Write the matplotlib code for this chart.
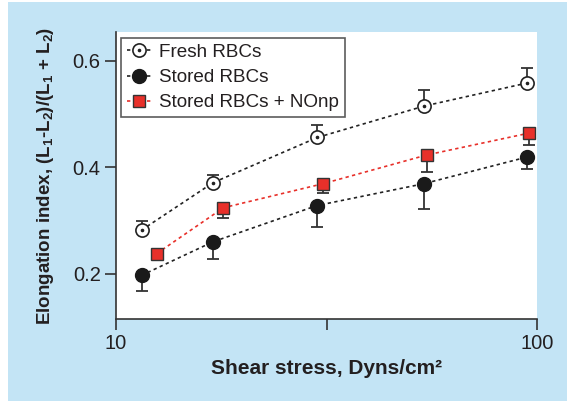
import matplotlib.pyplot as plt
import numpy as np
from matplotlib.patches import Rectangle

plt.rcParams['font.family'] = ['Liberation Sans', 'DejaVu Sans']
plt.rcParams['mathtext.fontset'] = 'custom'
plt.rcParams['mathtext.rm'] = 'Liberation Sans:bold'
plt.rcParams['mathtext.bf'] = 'Liberation Sans:bold'

# shear stress (x), elongation index (y), one-sided error bars
fresh_x = [11.5, 17.0, 30.1, 54.0, 94.5]
fresh_y = [0.282, 0.371, 0.456, 0.515, 0.558]
fresh_err_up = [0.017, 0.015, 0.023, 0.030, 0.028]

stored_x = [11.5, 17.0, 30.0, 53.8, 94.5]
stored_y = [0.197, 0.260, 0.328, 0.369, 0.419]
stored_err_dn = [0.030, 0.032, 0.040, 0.048, 0.023]

np_x = [12.5, 18.0, 31.0, 54.7, 95.6]
np_y = [0.238, 0.324, 0.369, 0.423, 0.464]
np_err_dn = [0.002, 0.020, 0.018, 0.032, 0.023]

xticks = [10, 10**1.5, 100]
xticklabels = ['10', '', '100']
yticks = [0.2, 0.4, 0.6]
yticklabels = ['0.2', '0.4', '0.6']

txt = '#231f20'
blue = '#c3e4f5'
red = '#e8302a'

fig = plt.figure(figsize=(5.67, 4.01), dpi=100, facecolor='white')
fig.patches.append(Rectangle((8/567, 0), 1, 1 - 2/401, transform=fig.transFigure,
                             facecolor=blue, edgecolor='none', zorder=-10))
ax = fig.add_axes([116/567, 1 - 319/401, 421/567, 287/401])
ax.set_facecolor('white')

ebkw = dict(ecolor='#333333', elinewidth=1.3, capsize=4, capthick=1.3, zorder=2)

ax.errorbar(fresh_x, fresh_y, yerr=[np.zeros(5), fresh_err_up], fmt='none', **ebkw)
ax.errorbar(stored_x, stored_y, yerr=[stored_err_dn, np.zeros(5)], fmt='none', **ebkw)
ax.errorbar(np_x, np_y, yerr=[np_err_dn, np.zeros(5)], fmt='none', **ebkw)

l1, = ax.plot(fresh_x, fresh_y, linestyle=(0, (2, 2)), color='#222222', lw=1.2,
              marker='o', ms=9.5, mfc='white', mec='#222222', mew=1.2, zorder=3)
d1, = ax.plot(fresh_x, fresh_y, linestyle='none', marker='o', ms=1.6,
              color='#222222', zorder=4)
l2, = ax.plot(stored_x, stored_y, linestyle=(0, (2, 2)), color='#222222', lw=1.2,
              marker='o', ms=10, mfc='#1a1a1a', mec='#1a1a1a', zorder=3)
l3, = ax.plot(np_x, np_y, linestyle=(0, (2, 2)), color=red, lw=1.2,
              marker='s', ms=9, mfc=red, mec='#333333', mew=1.0, zorder=3)

ax.set_xscale('log')
ax.set_xlim(10, 100)
ax.set_ylim(0.115, 0.654)
ax.set_xticks(xticks)
ax.set_xticklabels(xticklabels)
ax.xaxis.set_minor_locator(plt.NullLocator())
ax.set_yticks(yticks)
ax.set_yticklabels(yticklabels)

for s in ['top', 'right']:
    ax.spines[s].set_visible(False)
for s in ['left', 'bottom']:
    ax.spines[s].set_color('#333333')
    ax.spines[s].set_linewidth(1.2)
ax.tick_params(direction='out', length=8, width=1.2, color='#333333',
               labelsize=14.5, labelcolor=txt, pad=3)

ax.set_xlabel('Shear stress, Dyns/cm\u00b2', fontsize=15, fontweight='bold',
              color=txt, labelpad=4)
ax.set_ylabel('Elongation index, (L$_1$-L$_2$)/(L$_1$ + L$_2$)', fontsize=13.5,
              fontweight='bold', color=txt, labelpad=12)

leg = ax.legend([(l1, d1), l2, l3], ['Fresh RBCs', 'Stored RBCs', 'Stored RBCs + NOnp'],
                loc='upper left', bbox_to_anchor=(0.012, 0.98), fontsize=13.6,
                frameon=True, fancybox=False, edgecolor='#333333',
                handlelength=1.3, handletextpad=0.4, labelspacing=0.42,
                borderpad=0.32, borderaxespad=0)
leg.get_frame().set_linewidth(1.2)
for t in leg.get_texts():
    t.set_color(txt)

fig.savefig('out.png', dpi=100, facecolor=fig.get_facecolor())
